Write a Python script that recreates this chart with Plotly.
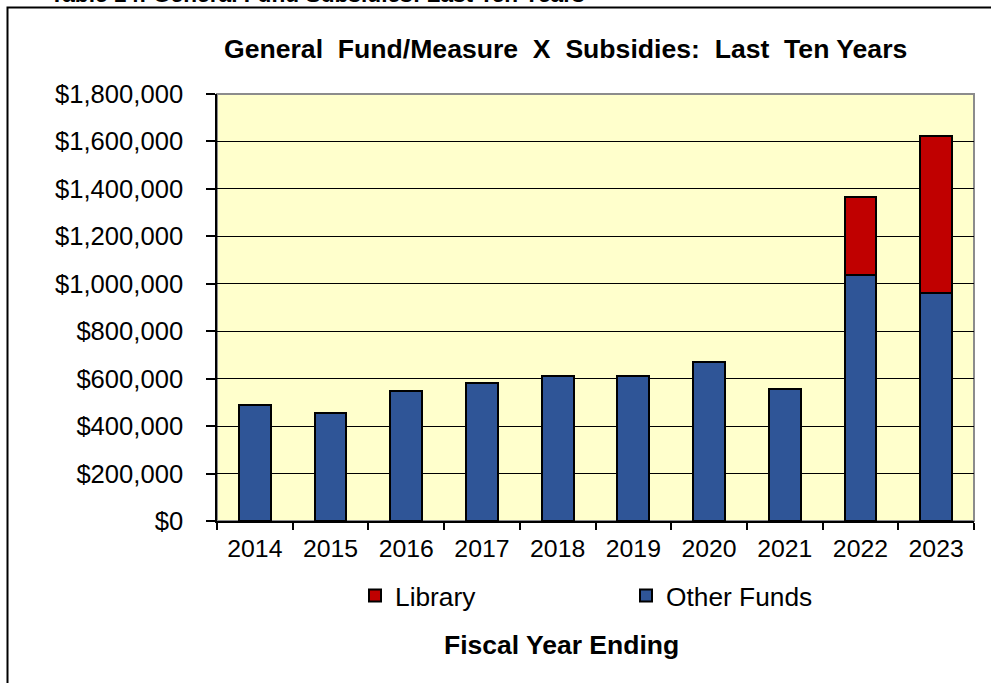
import plotly.graph_objects as go

# Fiscal years and subsidy amounts (USD)
years = ["2014", "2015", "2016", "2017", "2018", "2019", "2020", "2021", "2022", "2023"]
other_funds = [488000, 454000, 550000, 583000, 612000, 611000, 672000, 556000, 1036000, 961000]
library = [0, 0, 0, 0, 0, 0, 0, 0, 330000, 660000]

W, H = 991, 683
# plot area in pixels
PL, PR, PT, PB = 217, 974, 93.5, 521
FONT = "Liberation Sans, Arial, sans-serif"


def px_x(x):
    return (x - PL) / (PR - PL)


def px_y(y):
    return (PB - y) / (PB - PT)


fig = go.Figure()
fig.add_trace(go.Bar(
    x=years, y=other_funds, name="Other Funds",
    marker=dict(color="#2F5597", line=dict(color="#000000", width=2)),
    width=0.42,
))
fig.add_trace(go.Bar(
    x=years, y=library, name="Library",
    marker=dict(color="#C00000", line=dict(color="#000000", width=2)),
    width=0.42,
))

shapes = [
    # plot-area border
    dict(type="rect", xref="paper", yref="paper", x0=0, x1=1, y0=0, y1=1,
         line=dict(color="#8C8C8C", width=2), layer="below"),
    # outer frame around the chart
    dict(type="path", xref="paper", yref="paper",
         path=f"M {px_x(7.5)} {px_y(700)} L {px_x(7.5)} {px_y(7)} L {px_x(1000)} {px_y(7)}",
         line=dict(color="#000000", width=2)),
]

annotations = [
    dict(text="<b>Table 14: General Fund Subsidies: Last Ten Years</b>",
         xref="paper", yref="paper", x=px_x(48), y=px_y(-7), xanchor="left", yanchor="middle",
         showarrow=False, font=dict(family=FONT, size=22.7, color="#000000")),
    dict(text="<b>General\u00a0 Fund/Measure\u00a0 X\u00a0 Subsidies:\u00a0 Last\u00a0 Ten Years</b>",
         xref="paper", yref="paper", x=px_x(565.5), y=px_y(48), xanchor="center", yanchor="middle",
         showarrow=False, font=dict(family=FONT, size=26.6, color="#000000")),
    dict(text="<b>Fiscal Year Ending</b>",
         xref="paper", yref="paper", x=px_x(561.5), y=px_y(645), xanchor="center", yanchor="middle",
         showarrow=False, font=dict(family=FONT, size=26.5, color="#000000")),
]

fig.update_layout(
    width=W, height=H,
    margin=dict(l=PL, r=W - PR, t=PT, b=H - PB, pad=0),
    paper_bgcolor="#FFFFFF",
    plot_bgcolor="#FFFFCC",
    barmode="stack",
    font=dict(family=FONT, size=24, color="#000000"),
    showlegend=True,
    legend=dict(orientation="h", traceorder="reversed",
                x=px_x(355), xanchor="left", y=px_y(596), yanchor="middle",
                entrywidth=226, entrywidthmode="pixels",
                font=dict(family=FONT, size=26.3, color="#000000"),
                bgcolor="rgba(0,0,0,0)"),
    shapes=shapes,
    annotations=annotations,
)

fig.update_xaxes(
    type="category", showgrid=False,
    showline=True, linecolor="#000000", linewidth=1.5,
    ticks="outside", tickson="boundaries", ticklen=7, tickcolor="#000000", tickwidth=1.5,
    ticklabelstandoff=4,
    tickfont=dict(family=FONT, size=24.8, color="#000000"),
)
fig.update_yaxes(
    range=[0, 1800000], dtick=200000, tick0=0,
    tickprefix="$", tickformat=",.0f",
    showgrid=True, gridcolor="#000000", gridwidth=1,
    showline=True, linecolor="#000000", linewidth=1.5,
    ticks="outside", ticklen=9, tickcolor="#000000", tickwidth=1.5,
    ticklabelstandoff=18,
    tickfont=dict(family=FONT, size=25.6, color="#000000"),
    zeroline=False,
)

fig.write_html("out.html")
